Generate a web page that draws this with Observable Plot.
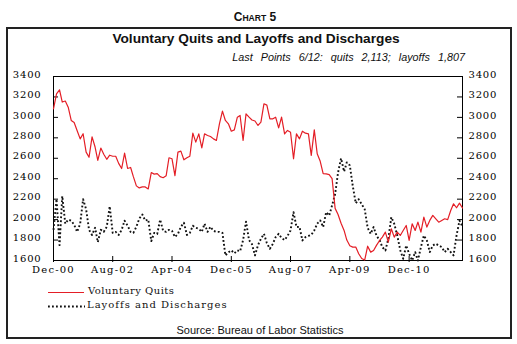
<!DOCTYPE html>
<html>
<head>
<meta charset="utf-8">
<script src="https://cdn.jsdelivr.net/npm/d3@7"></script>
<script src="https://cdn.jsdelivr.net/npm/@observablehq/plot@0.6"></script>
<style>
  html, body { margin: 0; padding: 0; background: #fff; }
  #wrap { position: relative; width: 517px; height: 344px; overflow: hidden; background: #fff; }
  #wrap > svg { position: absolute; left: 0; top: 0; }
  g[aria-label="y-axis tick label"] text { letter-spacing: 0.8px; }
  g[aria-label="x-axis tick label"] text { letter-spacing: 1.2px; }
</style>
</head>
<body>
<div id="wrap"></div>
<script>
// ---- Data (monthly, Dec-2000 .. Jun-2012, thousands) ----
const startMonth = "Dec-00";
const quits = [
  3084, 3230, 3270, 3150, 3160, 3100, 2970, 2950, 2870, 2790,
  2840, 2660, 2610, 2810, 2710, 2580, 2700, 2640, 2590, 2630,
  2620, 2620, 2550, 2500, 2650, 2500, 2510, 2420, 2330, 2310,
  2320, 2320, 2300, 2460, 2445, 2450, 2420, 2410, 2430, 2605,
  2595, 2430, 2660, 2670, 2585, 2605, 2620, 2846, 2758, 2839,
  2702, 2839, 2823, 2813, 2790, 2774, 2937, 3061, 2970, 2937,
  2865, 2878, 3002, 3019, 2774, 3035, 3002, 2975, 2965, 2921,
  2953, 3133, 3120, 2986, 2986, 3002, 2898, 3002, 2839, 2872,
  2855, 2595, 2839, 2790, 2865, 2846, 2839, 2627, 2878, 2644,
  2570, 2450, 2448, 2440, 2400, 2110, 2050, 1965, 1894, 1800,
  1745, 1731, 1731, 1666, 1620, 1605, 1740, 1682, 1698, 1750,
  1796, 1829, 1878, 1780, 1910, 1829, 1878, 1845, 1894, 1943,
  1796, 1959, 1894, 1975, 1878, 2024, 1927, 1992, 2041, 2008,
  1975, 1992, 2008, 2000, 2089, 2155, 2116, 2161, 2113
];
const layoffs = [
  1900, 2200, 1750, 2230, 1960, 2000, 1990, 1950, 1880, 1960,
  2200, 2100, 1900, 1850, 1920, 1780, 1900, 1880, 1930, 2130,
  1870, 1880, 1850, 1900, 1990, 1940, 1880, 1870, 1930, 2010,
  2050, 1990, 2000, 1790, 1870, 1860, 2000, 1890, 1880, 1900,
  1890, 1830, 1860, 1930, 1970, 1850, 1870, 1940, 1920, 1910,
  1880, 1960, 1880, 1930, 1890, 1880, 1880, 1870, 1650, 1680,
  1700, 1670, 1700, 1690, 1800, 1980, 1800, 1760, 1650, 1750,
  1812, 1861, 1770, 1715, 1764, 1829, 1861, 1820, 1800, 1840,
  1894, 2073, 1927, 1930, 1796, 1829, 1840, 1850, 1894, 1960,
  1992, 1927, 2073, 2040, 2140, 2250, 2460, 2600, 2470, 2560,
  2530, 2330, 2160, 2200, 2150, 2100, 1920, 1861, 1927, 1840,
  1800, 1731, 1698, 1812, 2024, 1959, 1845, 1700, 1617, 1747,
  1666, 1600, 1682, 1600, 1731, 1845, 1796, 1682, 1747, 1764,
  1747, 1731, 1682, 1715, 1682, 1650, 1845, 1990, 1930
];
const xTickLabels = ["Dec-00", "Aug-02", "Apr-04", "Dec-05", "Aug-07", "Apr-09", "Dec-10"];
const yTicks = [1600, 1800, 2000, 2200, 2400, 2600, 2800, 3000, 3200, 3400];
const yDomain = [1600, 3400];

// ---- Build table ----
const parseM = d3.utcParse("%b-%y");
const fmtM = d3.utcFormat("%b-%y");
const t0 = parseM(startMonth);
const rows = quits.map((q, i) => ({ date: d3.utcMonth.offset(t0, i), quits: q, layoffs: layoffs[i] }));
const xTicks = xTickLabels.map(parseM);
const xDomain = [rows[0].date, rows[rows.length - 1].date];

const RED = "#e41e26";

const chart = Plot.plot({
  width: 517,
  height: 344,
  marginLeft: 53,
  marginRight: 55,
  marginTop: 76,
  marginBottom: 84,
  style: { fontFamily: "DejaVu Serif", fontSize: "10px", color: "#000", background: "transparent", overflow: "visible" },
  x: { type: "utc", domain: xDomain },
  y: { domain: yDomain },
  marks: [
    Plot.frame({ stroke: "#000", strokeWidth: 1 }),
    Plot.tickY(yTicks, { y: d => d, insetRight: 404, stroke: "#000" }),
    Plot.tickY(yTicks, { y: d => d, insetLeft: 404, stroke: "#000" }),
    Plot.tickX(xTicks, { x: d => d, insetTop: 180, insetBottom: -2, stroke: "#000" }),
    Plot.line(rows, { x: "date", y: "layoffs", stroke: "#111", strokeWidth: 1.9, strokeDasharray: "1.8,2.2", strokeLinecap: "butt" }),
    Plot.line(rows, { x: "date", y: "quits", stroke: RED, strokeWidth: 1.2 }),
    Plot.axisY({ anchor: "left", ticks: yTicks, tickSize: 0, tickPadding: 12, tickFormat: d => String(d), dy: -2, label: null }),
    Plot.axisY({ anchor: "right", ticks: yTicks, tickSize: 0, tickPadding: 6, tickFormat: d => String(d), dy: -2, label: null }),
    Plot.axisX({ anchor: "bottom", ticks: xTicks, tickSize: 0, tickPadding: 5, tickFormat: fmtM, label: null })
  ]
});

const wrap = document.getElementById("wrap");
wrap.appendChild(chart);

// ---- Titles, legend, source, outer box ----
const ns = "http://www.w3.org/2000/svg";
const deco = document.createElementNS(ns, "svg");
deco.setAttribute("width", 517);
deco.setAttribute("height", 344);
deco.innerHTML = `
  <rect x="7" y="28" width="504" height="310" fill="none" stroke="#222" stroke-width="2"/>
  <text x="255" y="21" text-anchor="middle" font-family="Liberation Sans, Arial, sans-serif" font-weight="bold" fill="#111"><tspan font-size="12">C</tspan><tspan font-size="8.6">HART</tspan><tspan font-size="12"> 5</tspan></text>
  <text x="256" y="43" text-anchor="middle" font-family="Liberation Sans, Arial, sans-serif" font-weight="bold" font-size="13.7" fill="#111">Voluntary Quits and Layoffs and Discharges</text>
  <text x="465" y="61" text-anchor="end" font-family="Liberation Sans, Arial, sans-serif" font-style="italic" font-size="10.8" word-spacing="5" fill="#111">Last Points 6/12: quits 2,113; layoffs 1,807</text>
  <line x1="48" x2="84" y1="292.5" y2="292.5" stroke="${RED}" stroke-width="1.2"/>
  <text x="88" y="294" font-family="DejaVu Serif" font-size="10" letter-spacing="0.5" fill="#111">Voluntary Quits</text>
  <line x1="48" x2="85" y1="306.5" y2="306.5" stroke="#111" stroke-width="1.9" stroke-dasharray="1.8,2.2"/>
  <text x="87" y="308" font-family="DejaVu Serif" font-size="10" letter-spacing="1" fill="#111">Layoffs and Discharges</text>
  <text x="260" y="334" text-anchor="middle" font-family="Liberation Sans, Arial, sans-serif" font-size="11" fill="#111">Source: Bureau of Labor Statistics</text>
`;
wrap.appendChild(deco);
</script>
</body>
</html>
